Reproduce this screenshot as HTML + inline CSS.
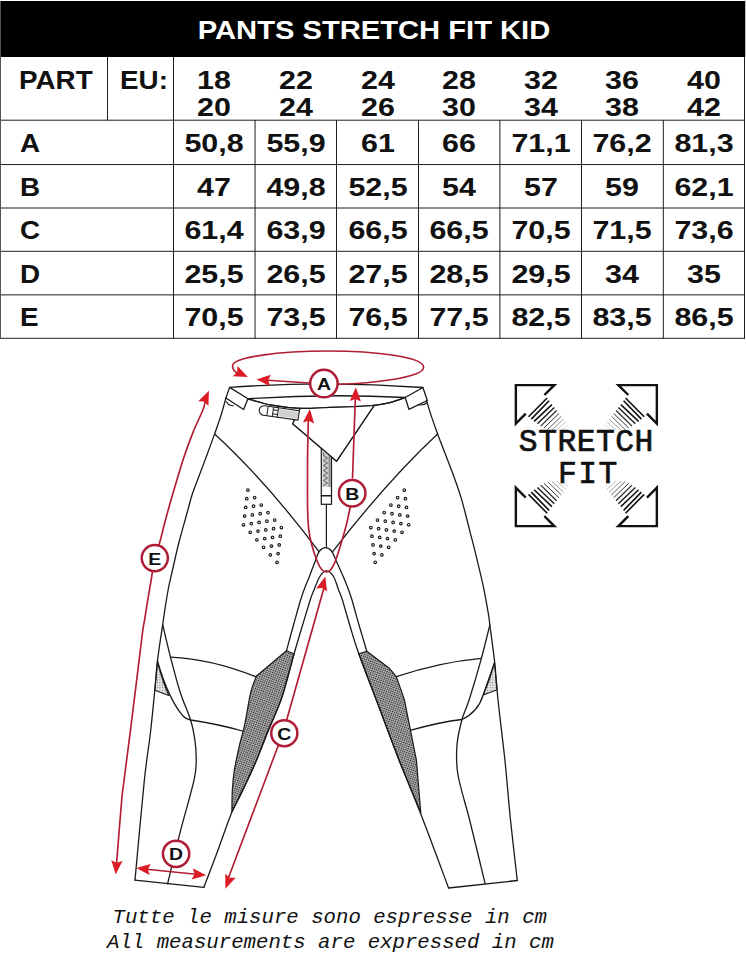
<!DOCTYPE html><html><head><meta charset="utf-8"><style>
*{margin:0;padding:0;box-sizing:border-box}
html,body{width:746px;height:973px;background:#fff;overflow:hidden}
body{position:relative;font-family:"Liberation Sans",sans-serif}
.hl{position:absolute;height:1px;background:#111}
.vl{position:absolute;width:1px;background:#111}
.t{position:absolute;font-weight:bold;font-size:26px;line-height:26px;color:#111;white-space:nowrap}
.c{transform:translateX(-50%) scaleX(1.17);}
.l{transform-origin:0 0;transform:scaleX(1.07)}
</style></head><body>
<div style="position:absolute;left:0;top:1px;width:745px;height:56px;background:#000"></div>
<div class="t c" style="left:373.5px;top:16.5px;font-size:25px;color:#fff;transform:translateX(-50%) scaleX(1.166)">PANTS STRETCH FIT KID</div>
<svg style="position:absolute;left:0;top:0" width="746" height="340"><line x1="0" y1="120.2" x2="745" y2="120.2" stroke="#1e1e1e" stroke-width="1"/><line x1="0" y1="164.56" x2="745" y2="164.56" stroke="#1e1e1e" stroke-width="1"/><line x1="0" y1="208.0" x2="745" y2="208.0" stroke="#1e1e1e" stroke-width="1"/><line x1="0" y1="251.3" x2="745" y2="251.3" stroke="#1e1e1e" stroke-width="1"/><line x1="0" y1="294.86" x2="745" y2="294.86" stroke="#1e1e1e" stroke-width="1"/><line x1="0" y1="338.3" x2="745" y2="338.3" stroke="#1e1e1e" stroke-width="1"/><line x1="255.05" y1="120" x2="255.05" y2="338.8" stroke="#1e1e1e" stroke-width="1"/><line x1="336.5" y1="120" x2="336.5" y2="338.8" stroke="#1e1e1e" stroke-width="1"/><line x1="418.5" y1="120" x2="418.5" y2="338.8" stroke="#1e1e1e" stroke-width="1"/><line x1="499.9" y1="120" x2="499.9" y2="338.8" stroke="#1e1e1e" stroke-width="1"/><line x1="581.5" y1="120" x2="581.5" y2="338.8" stroke="#1e1e1e" stroke-width="1"/><line x1="663.3" y1="120" x2="663.3" y2="338.8" stroke="#1e1e1e" stroke-width="1"/><line x1="173.5" y1="57" x2="173.5" y2="338.8" stroke="#1e1e1e" stroke-width="1"/><line x1="107.5" y1="57" x2="107.5" y2="120.2" stroke="#1e1e1e" stroke-width="1"/><line x1="744.5" y1="57" x2="744.5" y2="338.8" stroke="#1e1e1e" stroke-width="1"/><line x1="0.5" y1="1" x2="0.5" y2="338.8" stroke="#555" stroke-width="1"/><line x1="745.5" y1="0" x2="745.5" y2="57" stroke="#bbb" stroke-width="1"/></svg>
<div class="t l" style="left:19px;top:67px">PART</div>
<div class="t l" style="left:119.5px;top:67px">EU:</div>
<div class="t c" style="left:214.275px;top:67.2px">18</div>
<div class="t c" style="left:214.275px;top:93.6px">20</div>
<div class="t c" style="left:295.775px;top:67.2px">22</div>
<div class="t c" style="left:295.775px;top:93.6px">24</div>
<div class="t c" style="left:377.5px;top:67.2px">24</div>
<div class="t c" style="left:377.5px;top:93.6px">26</div>
<div class="t c" style="left:459.2px;top:67.2px">28</div>
<div class="t c" style="left:459.2px;top:93.6px">30</div>
<div class="t c" style="left:540.7px;top:67.2px">32</div>
<div class="t c" style="left:540.7px;top:93.6px">34</div>
<div class="t c" style="left:622.4px;top:67.2px">36</div>
<div class="t c" style="left:622.4px;top:93.6px">38</div>
<div class="t c" style="left:703.9px;top:67.2px">40</div>
<div class="t c" style="left:703.9px;top:93.6px">42</div>
<div class="t l" style="left:20px;top:130px">A</div>
<div class="t c" style="left:214.275px;top:130px">50,8</div>
<div class="t c" style="left:295.775px;top:130px">55,9</div>
<div class="t c" style="left:377.5px;top:130px">61</div>
<div class="t c" style="left:459.2px;top:130px">66</div>
<div class="t c" style="left:540.7px;top:130px">71,1</div>
<div class="t c" style="left:622.4px;top:130px">76,2</div>
<div class="t c" style="left:703.9px;top:130px">81,3</div>
<div class="t l" style="left:20px;top:174px">B</div>
<div class="t c" style="left:214.275px;top:174px">47</div>
<div class="t c" style="left:295.775px;top:174px">49,8</div>
<div class="t c" style="left:377.5px;top:174px">52,5</div>
<div class="t c" style="left:459.2px;top:174px">54</div>
<div class="t c" style="left:540.7px;top:174px">57</div>
<div class="t c" style="left:622.4px;top:174px">59</div>
<div class="t c" style="left:703.9px;top:174px">62,1</div>
<div class="t l" style="left:20px;top:217px">C</div>
<div class="t c" style="left:214.275px;top:217px">61,4</div>
<div class="t c" style="left:295.775px;top:217px">63,9</div>
<div class="t c" style="left:377.5px;top:217px">66,5</div>
<div class="t c" style="left:459.2px;top:217px">66,5</div>
<div class="t c" style="left:540.7px;top:217px">70,5</div>
<div class="t c" style="left:622.4px;top:217px">71,5</div>
<div class="t c" style="left:703.9px;top:217px">73,6</div>
<div class="t l" style="left:20px;top:261px">D</div>
<div class="t c" style="left:214.275px;top:261px">25,5</div>
<div class="t c" style="left:295.775px;top:261px">26,5</div>
<div class="t c" style="left:377.5px;top:261px">27,5</div>
<div class="t c" style="left:459.2px;top:261px">28,5</div>
<div class="t c" style="left:540.7px;top:261px">29,5</div>
<div class="t c" style="left:622.4px;top:261px">34</div>
<div class="t c" style="left:703.9px;top:261px">35</div>
<div class="t l" style="left:20px;top:304px">E</div>
<div class="t c" style="left:214.275px;top:304px">70,5</div>
<div class="t c" style="left:295.775px;top:304px">73,5</div>
<div class="t c" style="left:377.5px;top:304px">76,5</div>
<div class="t c" style="left:459.2px;top:304px">77,5</div>
<div class="t c" style="left:540.7px;top:304px">82,5</div>
<div class="t c" style="left:622.4px;top:304px">83,5</div>
<div class="t c" style="left:703.9px;top:304px">86,5</div>
<div style="position:absolute;left:112.5px;top:905.5px;font-family:'Liberation Mono',monospace;font-style:italic;font-size:20.7px;line-height:24px;color:#111;white-space:pre">Tutte le misure sono espresse in cm</div>
<div style="position:absolute;left:107px;top:930.5px;font-family:'Liberation Mono',monospace;font-style:italic;font-size:20.7px;line-height:24px;color:#111;white-space:pre">All measurements are expressed in cm</div>
<svg style="position:absolute;left:0;top:0" width="746" height="973" viewBox="0 0 746 973"><defs>
<pattern id="mesh" width="2.1" height="2.1" patternUnits="userSpaceOnUse" patternTransform="rotate(20)">
<rect width="2.1" height="2.1" fill="#bdbdbd"/><circle cx="1.05" cy="1.05" r="0.74" fill="#222"/></pattern>
<pattern id="mesh2" width="2.6" height="2.6" patternUnits="userSpaceOnUse">
<rect width="2.6" height="2.6" fill="#e6e6e6"/><circle cx="1.3" cy="1.3" r="0.6" fill="#777"/></pattern>
</defs>
<path d="M294.0,654.0 C291.9,661.3 286.1,684.8 281.7,697.9 C277.2,711.0 271.8,721.9 267.3,732.9 C262.9,743.9 259.4,753.4 255.0,763.7 C250.6,774.0 244.4,786.6 240.6,794.6 C236.8,802.6 233.3,809.1 231.9,812.0  C232.0,808.4 231.9,797.5 232.3,790.5 C232.7,783.5 233.2,777.4 234.4,769.9 C235.6,762.4 237.8,752.8 239.5,745.2 C241.2,737.7 242.8,733.5 244.7,724.6 C246.6,715.7 248.9,699.8 250.9,691.7 C252.9,683.6 255.6,678.6 256.5,676.0 L286.5,650.8 Z" fill="url(#mesh)" stroke="#1a1a1a" stroke-width="1.2" stroke-linejoin="round" stroke-linecap="round" />
<path d="M358.8,653.8 L366.8,651.2 L389.6,668.6 L396.3,676.6 L404.3,699.4 L416.4,760 L420.8,813 L399,760 Z" fill="url(#mesh)" stroke="#1a1a1a" stroke-width="1.2" stroke-linejoin="round" stroke-linecap="round" />
<path d="M157.5,661.5 L154.8,690.3 L168.8,695.5 Q162,680 157.5,661.5 Z" fill="url(#mesh2)" stroke="#1a1a1a" stroke-width="1.1" stroke-linejoin="round" stroke-linecap="round" />
<path d="M494.5,662.7 L497.1,689.7 L483.2,695 Q490,680 494.5,662.7 Z" fill="url(#mesh2)" stroke="#1a1a1a" stroke-width="1.1" stroke-linejoin="round" stroke-linecap="round" />
<path d="M229.6,387.4 Q326,380.5 422.9,387.5" fill="none" stroke="#1a1a1a" stroke-width="1.3" stroke-linejoin="round" stroke-linecap="round" />
<path d="M248,398.8 Q326,393.4 405.2,397.5" fill="none" stroke="#1a1a1a" stroke-width="1.3" stroke-linejoin="round" stroke-linecap="round" />
<path d="M248.0,398.8 C251.9,399.9 262.9,403.6 271.6,405.2 C280.3,406.8 290.6,407.9 300.3,408.3 C310.0,408.7 320.1,407.7 330.0,407.4 C339.9,407.1 352.6,406.7 360.0,406.4 C367.4,406.1 369.2,406.0 374.2,405.4 C379.2,404.8 384.8,403.9 390.0,402.6 C395.2,401.3 402.7,398.4 405.2,397.5" fill="none" stroke="#1a1a1a" stroke-width="1.3" stroke-linejoin="round" stroke-linecap="round" />
<path d="M229.6,387.4 L248.0,398.8 L243.6,409.5 L225.9,398.0 Z" fill="none" stroke="#1a1a1a" stroke-width="1.3" stroke-linejoin="round" stroke-linecap="round" />
<path d="M226.5,401.7 Q228,405.5 233.5,405.8" fill="none" stroke="#1a1a1a" stroke-width="1.1" stroke-linejoin="round" stroke-linecap="round" />
<path d="M422.9,387.5 L405.2,397.5 L408.9,409.3 L427.3,400.5 Z" fill="none" stroke="#1a1a1a" stroke-width="1.3" stroke-linejoin="round" stroke-linecap="round" />
<path d="M418.5,405 Q424,405.5 427.5,402.5" fill="none" stroke="#1a1a1a" stroke-width="1.1" stroke-linejoin="round" stroke-linecap="round" />
<path d="M225.9,398.0 C225.1,401.0 222.7,410.0 220.8,416.0 C218.9,422.0 216.9,427.5 214.6,433.9 C212.3,440.3 209.7,447.6 207.2,454.3 C204.7,461.0 202.3,467.4 199.8,474.0 C197.3,480.6 194.6,487.2 192.4,493.8 C190.2,500.4 189.2,505.4 186.9,513.5 C184.7,521.6 181.2,533.6 178.9,542.5 C176.6,551.4 175.0,559.1 173.2,567.0 C171.4,574.9 169.5,582.5 168.1,590.0 C166.7,597.5 165.4,606.2 164.5,612.0 C163.6,617.8 163.0,622.7 162.7,624.8" fill="none" stroke="#1a1a1a" stroke-width="1.3" stroke-linejoin="round" stroke-linecap="round" />
<path d="M162.7,624.8 C161.8,630.8 158.8,649.7 157.5,660.6 C156.2,671.5 156.0,678.4 154.8,690.3 C153.6,702.2 152.2,717.3 150.5,732.2 C148.8,747.1 147.0,755.1 144.4,779.8 C141.8,804.4 136.6,863.4 135.0,880.1" fill="none" stroke="#1a1a1a" stroke-width="1.3" stroke-linejoin="round" stroke-linecap="round" />
<path d="M162.7,624.8 C164.0,630.2 167.6,645.9 170.5,657.1 C173.4,668.3 176.8,681.5 180.1,692.0 C183.4,702.5 188.1,711.9 190.6,720.0 C193.1,728.1 194.1,734.5 195.0,740.9 C195.9,747.3 196.3,751.9 196.2,758.4 C196.0,764.9 196.9,767.1 194.1,779.8 C191.3,792.4 184.0,817.0 179.6,834.3 C175.2,851.6 169.6,875.5 167.6,883.8" fill="none" stroke="#1a1a1a" stroke-width="1.3" stroke-linejoin="round" stroke-linecap="round" />
<path d="M170.5,657.1 Q212,659 255.6,676.7" fill="none" stroke="#1a1a1a" stroke-width="1.3" stroke-linejoin="round" stroke-linecap="round" />
<path d="M157.5,661.5 C163,680 170,700 181.9,714.7 Q185,719 190.6,720 Q218,724 242.4,731" fill="none" stroke="#1a1a1a" stroke-width="1.3" stroke-linejoin="round" stroke-linecap="round" />
<path d="M135,880.1 L203.8,887.4" fill="none" stroke="#1a1a1a" stroke-width="1.3" stroke-linejoin="round" stroke-linecap="round" />
<path d="M203.8,887.4 C206.2,881.2 213.3,862.6 218.0,850.0 C222.7,837.4 228.1,821.2 231.9,812.0 C235.7,802.8 236.8,802.6 240.6,794.6 C244.4,786.6 250.6,774.0 255.0,763.7 C259.4,753.4 262.9,743.9 267.3,732.9 C271.8,721.9 277.2,711.0 281.7,697.9 C286.1,684.8 290.6,665.8 294.0,654.0 C297.4,642.2 299.3,636.0 302.0,627.0 C304.7,618.0 308.2,606.3 310.2,600.0 C312.2,593.7 312.6,593.3 314.2,589.4 C315.8,585.5 317.9,579.6 319.9,576.5 C321.9,573.4 324.0,570.9 326.3,570.9 C328.6,570.9 331.5,573.4 333.5,576.5 C335.5,579.6 336.9,585.5 338.4,589.4 C339.9,593.3 340.5,593.9 342.4,600.0 C344.3,606.1 347.3,617.0 350.0,626.0 C352.7,635.0 354.0,640.3 358.8,653.8 C363.6,667.3 372.3,689.3 379.0,707.0 C385.7,724.7 392.0,742.2 399.0,760.0 C406.0,777.8 412.5,792.7 420.8,814.0 C429.1,835.3 444.0,875.7 448.6,888.0" fill="none" stroke="#1a1a1a" stroke-width="1.3" stroke-linejoin="round" stroke-linecap="round" />
<path d="M286.5,650.8 C287.7,646.5 291.1,633.5 293.5,625.0 C295.9,616.5 298.6,606.5 300.6,600.0 C302.6,593.5 304.0,589.9 305.5,586.0 C307.0,582.1 307.7,580.8 309.4,576.5 C311.1,572.2 313.8,564.6 315.5,560.4 C317.2,556.1 317.8,553.1 319.5,551.0 C321.2,548.9 323.5,547.6 325.5,547.6 C327.5,547.6 329.8,548.9 331.5,551.0 C333.2,553.1 334.1,556.1 336.0,560.4 C337.9,564.6 341.3,572.1 343.2,576.5 C345.1,580.9 346.0,583.1 347.5,587.0 C349.0,590.9 350.1,593.7 352.0,600.0 C353.9,606.3 356.5,616.5 359.0,625.0 C361.5,633.5 365.5,646.8 366.8,651.2" fill="none" stroke="#1a1a1a" stroke-width="1.3" stroke-linejoin="round" stroke-linecap="round" />
<path d="M214.6,433.9 Q265,480 319,551.6" fill="none" stroke="#1a1a1a" stroke-width="1.3" stroke-linejoin="round" stroke-linecap="round" />
<path d="M437.6,433.9 Q388,480 332.7,551.6" fill="none" stroke="#1a1a1a" stroke-width="1.3" stroke-linejoin="round" stroke-linecap="round" />
<path d="M426.5,400.5 C427.3,403.2 429.6,411.0 431.5,416.6 C433.4,422.2 435.2,427.4 437.6,433.9 C440.0,440.4 443.1,448.1 445.9,455.5 C448.7,462.9 452.0,471.1 454.6,478.5 C457.2,485.9 459.2,491.0 461.8,500.1 C464.4,509.2 468.0,523.9 470.4,533.3 C472.8,542.6 474.1,547.4 476.2,556.2 C478.3,565.0 481.2,576.3 483.2,585.9 C485.2,595.5 487.3,607.3 488.4,613.8 C489.5,620.3 489.6,623.2 489.8,625.1" fill="none" stroke="#1a1a1a" stroke-width="1.3" stroke-linejoin="round" stroke-linecap="round" />
<path d="M489.8,625.1 C490.6,631.1 493.1,648.5 494.5,660.9 C495.9,673.3 496.3,683.3 498.0,699.8 C499.7,716.3 502.8,740.0 504.9,760.0 C507.0,780.0 508.4,799.9 510.5,820.0 C512.6,840.1 516.2,870.4 517.3,880.5" fill="none" stroke="#1a1a1a" stroke-width="1.3" stroke-linejoin="round" stroke-linecap="round" />
<path d="M489.8,625.1 C488.4,630.6 484.8,645.8 481.4,658.3 C478.0,670.8 472.4,689.6 469.2,699.8 C466.0,710.0 464.0,712.0 462.0,719.5 C460.0,727.0 457.7,735.8 457.0,745.0 C456.3,754.2 455.8,762.2 458.0,775.0 C460.2,787.8 465.5,803.4 470.0,821.5 C474.5,839.6 482.6,873.3 485.1,883.7" fill="none" stroke="#1a1a1a" stroke-width="1.3" stroke-linejoin="round" stroke-linecap="round" />
<path d="M396.3,676.6 Q440,662 481.4,658.3" fill="none" stroke="#1a1a1a" stroke-width="1.3" stroke-linejoin="round" stroke-linecap="round" />
<path d="M411,730.2 Q440,722 462,719.5 Q478,712 483.2,695 L494.5,662.7" fill="none" stroke="#1a1a1a" stroke-width="1.3" stroke-linejoin="round" stroke-linecap="round" />
<path d="M448.6,888 L517.3,880.5" fill="none" stroke="#1a1a1a" stroke-width="1.3" stroke-linejoin="round" stroke-linecap="round" />
<path d="M300.3,408.3 L292.7,423.7 L336.6,461.2 L374.2,405.4" fill="none" stroke="#1a1a1a" stroke-width="1.3" stroke-linejoin="round" stroke-linecap="round" />
<rect x="321.3" y="449" width="10.2" height="55.3" fill="#fff" stroke="#1a1a1a" stroke-width="1.2"/>
<rect x="322.2" y="450" width="8.4" height="37" fill="#cfcfcf"/>
<rect x="328.6" y="452" width="2" height="35" fill="#8a8a8a"/>
<path d="M323.5,453 L323.5,455.5 L327.5,458.0 L323.5,460.5 L327.5,463.0 L323.5,465.5 L327.5,468.0 L323.5,470.5 L327.5,473.0 L323.5,475.5 L327.5,478.0 L323.5,480.5 L327.5,483.0 L323.5,485.5" fill="none" stroke="#444" stroke-width="0.8" stroke-linejoin="round" stroke-linecap="round" />
<path d="M321.3,495.8 L331.5,495.8" fill="none" stroke="#1a1a1a" stroke-width="1.6" stroke-linejoin="round" stroke-linecap="round" />
<path d="M326.4,504.3 L326.4,546.8" fill="none" stroke="#1a1a1a" stroke-width="1.2" stroke-linejoin="round" stroke-linecap="round" />
<path d="M300.3,408.3 L292.7,423.7 L336.6,461.2 L374.2,405.4 L330,407.4 Z" fill="#fff" stroke="none"/>
<path d="M300.3,408.3 L292.7,423.7 L336.6,461.2 L374.2,405.4" fill="none" stroke="#1a1a1a" stroke-width="1.3" stroke-linejoin="round" stroke-linecap="round" />
<path d="M248.0,398.8 C251.9,399.9 262.9,403.6 271.6,405.2 C280.3,406.8 290.6,407.9 300.3,408.3 C310.0,408.7 320.1,407.7 330.0,407.4 C339.9,407.1 352.6,406.7 360.0,406.4 C367.4,406.1 369.2,406.0 374.2,405.4 C379.2,404.8 384.8,403.9 390.0,402.6 C395.2,401.3 402.7,398.4 405.2,397.5" fill="none" stroke="#1a1a1a" stroke-width="1.3" stroke-linejoin="round" stroke-linecap="round" />
<g transform="translate(264,410.5) rotate(8)"><path d="M0,-4.8 L35,-4.8 L35,4.8 L0,4.8 A4.8,4.8 0 0 1 0,-4.8 Z" fill="#fff" stroke="#1a1a1a" stroke-width="1.1"/><rect x="15" y="-3.6" width="19" height="7.2" fill="#cfcfcf"/><path d="M3.5,-4.8 L3.5,4.8 M9,-4.8 L9,4.8 M9,-2 L14,-2 M9,2 L14,2 M14,-4.8 L14,4.8" stroke="#1a1a1a" stroke-width="1" fill="none"/></g>
<circle cx="247.9" cy="490.0" r="1.3" fill="#fff" stroke="#1a1a1a" stroke-width="1.15"/>
<circle cx="404.3" cy="490.0" r="1.3" fill="#fff" stroke="#1a1a1a" stroke-width="1.15"/>
<circle cx="246.8" cy="498.7" r="1.3" fill="#fff" stroke="#1a1a1a" stroke-width="1.15"/>
<circle cx="405.4" cy="498.7" r="1.3" fill="#fff" stroke="#1a1a1a" stroke-width="1.15"/>
<circle cx="254.6" cy="497.5" r="1.3" fill="#fff" stroke="#1a1a1a" stroke-width="1.15"/>
<circle cx="397.6" cy="497.5" r="1.3" fill="#fff" stroke="#1a1a1a" stroke-width="1.15"/>
<circle cx="245.7" cy="507.4" r="1.3" fill="#fff" stroke="#1a1a1a" stroke-width="1.15"/>
<circle cx="406.5" cy="507.4" r="1.3" fill="#fff" stroke="#1a1a1a" stroke-width="1.15"/>
<circle cx="253.5" cy="506.2" r="1.3" fill="#fff" stroke="#1a1a1a" stroke-width="1.15"/>
<circle cx="398.7" cy="506.2" r="1.3" fill="#fff" stroke="#1a1a1a" stroke-width="1.15"/>
<circle cx="261.3" cy="505.0" r="1.3" fill="#fff" stroke="#1a1a1a" stroke-width="1.15"/>
<circle cx="390.9" cy="505.0" r="1.3" fill="#fff" stroke="#1a1a1a" stroke-width="1.15"/>
<circle cx="244.6" cy="516.1" r="1.3" fill="#fff" stroke="#1a1a1a" stroke-width="1.15"/>
<circle cx="407.6" cy="516.1" r="1.3" fill="#fff" stroke="#1a1a1a" stroke-width="1.15"/>
<circle cx="252.4" cy="514.9" r="1.3" fill="#fff" stroke="#1a1a1a" stroke-width="1.15"/>
<circle cx="399.8" cy="514.9" r="1.3" fill="#fff" stroke="#1a1a1a" stroke-width="1.15"/>
<circle cx="260.2" cy="513.7" r="1.3" fill="#fff" stroke="#1a1a1a" stroke-width="1.15"/>
<circle cx="392.0" cy="513.7" r="1.3" fill="#fff" stroke="#1a1a1a" stroke-width="1.15"/>
<circle cx="268.0" cy="512.5" r="1.3" fill="#fff" stroke="#1a1a1a" stroke-width="1.15"/>
<circle cx="384.2" cy="512.5" r="1.3" fill="#fff" stroke="#1a1a1a" stroke-width="1.15"/>
<circle cx="243.5" cy="524.8" r="1.3" fill="#fff" stroke="#1a1a1a" stroke-width="1.15"/>
<circle cx="408.7" cy="524.8" r="1.3" fill="#fff" stroke="#1a1a1a" stroke-width="1.15"/>
<circle cx="251.3" cy="523.6" r="1.3" fill="#fff" stroke="#1a1a1a" stroke-width="1.15"/>
<circle cx="400.9" cy="523.6" r="1.3" fill="#fff" stroke="#1a1a1a" stroke-width="1.15"/>
<circle cx="259.1" cy="522.4" r="1.3" fill="#fff" stroke="#1a1a1a" stroke-width="1.15"/>
<circle cx="393.1" cy="522.4" r="1.3" fill="#fff" stroke="#1a1a1a" stroke-width="1.15"/>
<circle cx="266.9" cy="521.2" r="1.3" fill="#fff" stroke="#1a1a1a" stroke-width="1.15"/>
<circle cx="385.3" cy="521.2" r="1.3" fill="#fff" stroke="#1a1a1a" stroke-width="1.15"/>
<circle cx="274.7" cy="520.0" r="1.3" fill="#fff" stroke="#1a1a1a" stroke-width="1.15"/>
<circle cx="377.5" cy="520.0" r="1.3" fill="#fff" stroke="#1a1a1a" stroke-width="1.15"/>
<circle cx="250.2" cy="532.3" r="1.3" fill="#fff" stroke="#1a1a1a" stroke-width="1.15"/>
<circle cx="402.0" cy="532.3" r="1.3" fill="#fff" stroke="#1a1a1a" stroke-width="1.15"/>
<circle cx="258.0" cy="531.1" r="1.3" fill="#fff" stroke="#1a1a1a" stroke-width="1.15"/>
<circle cx="394.2" cy="531.1" r="1.3" fill="#fff" stroke="#1a1a1a" stroke-width="1.15"/>
<circle cx="265.8" cy="529.9" r="1.3" fill="#fff" stroke="#1a1a1a" stroke-width="1.15"/>
<circle cx="386.4" cy="529.9" r="1.3" fill="#fff" stroke="#1a1a1a" stroke-width="1.15"/>
<circle cx="273.6" cy="528.7" r="1.3" fill="#fff" stroke="#1a1a1a" stroke-width="1.15"/>
<circle cx="378.6" cy="528.7" r="1.3" fill="#fff" stroke="#1a1a1a" stroke-width="1.15"/>
<circle cx="281.4" cy="527.5" r="1.3" fill="#fff" stroke="#1a1a1a" stroke-width="1.15"/>
<circle cx="370.8" cy="527.5" r="1.3" fill="#fff" stroke="#1a1a1a" stroke-width="1.15"/>
<circle cx="256.9" cy="539.8" r="1.3" fill="#fff" stroke="#1a1a1a" stroke-width="1.15"/>
<circle cx="395.3" cy="539.8" r="1.3" fill="#fff" stroke="#1a1a1a" stroke-width="1.15"/>
<circle cx="264.7" cy="538.6" r="1.3" fill="#fff" stroke="#1a1a1a" stroke-width="1.15"/>
<circle cx="387.5" cy="538.6" r="1.3" fill="#fff" stroke="#1a1a1a" stroke-width="1.15"/>
<circle cx="272.5" cy="537.4" r="1.3" fill="#fff" stroke="#1a1a1a" stroke-width="1.15"/>
<circle cx="379.7" cy="537.4" r="1.3" fill="#fff" stroke="#1a1a1a" stroke-width="1.15"/>
<circle cx="280.3" cy="536.2" r="1.3" fill="#fff" stroke="#1a1a1a" stroke-width="1.15"/>
<circle cx="371.9" cy="536.2" r="1.3" fill="#fff" stroke="#1a1a1a" stroke-width="1.15"/>
<circle cx="263.6" cy="547.3" r="1.3" fill="#fff" stroke="#1a1a1a" stroke-width="1.15"/>
<circle cx="388.6" cy="547.3" r="1.3" fill="#fff" stroke="#1a1a1a" stroke-width="1.15"/>
<circle cx="271.4" cy="546.1" r="1.3" fill="#fff" stroke="#1a1a1a" stroke-width="1.15"/>
<circle cx="380.8" cy="546.1" r="1.3" fill="#fff" stroke="#1a1a1a" stroke-width="1.15"/>
<circle cx="279.2" cy="544.9" r="1.3" fill="#fff" stroke="#1a1a1a" stroke-width="1.15"/>
<circle cx="373.0" cy="544.9" r="1.3" fill="#fff" stroke="#1a1a1a" stroke-width="1.15"/>
<circle cx="270.3" cy="554.8" r="1.3" fill="#fff" stroke="#1a1a1a" stroke-width="1.15"/>
<circle cx="381.9" cy="554.8" r="1.3" fill="#fff" stroke="#1a1a1a" stroke-width="1.15"/>
<circle cx="278.1" cy="553.6" r="1.3" fill="#fff" stroke="#1a1a1a" stroke-width="1.15"/>
<circle cx="374.1" cy="553.6" r="1.3" fill="#fff" stroke="#1a1a1a" stroke-width="1.15"/>
<circle cx="277.0" cy="562.3" r="1.3" fill="#fff" stroke="#1a1a1a" stroke-width="1.15"/>
<circle cx="375.2" cy="562.3" r="1.3" fill="#fff" stroke="#1a1a1a" stroke-width="1.15"/>
<path d="M338,384.2 C370,383.5 423.6,378 423.6,367.3 C423.6,357 376,351 328,351 C280,351 232.5,357 232.5,366 C232.5,369 234,371.5 238,373.5" fill="none" stroke="#b21d31" stroke-width="1.65" stroke-linejoin="round" stroke-linecap="round" />
<path d="M247.9,377.0 L232.8,376.2 L237.2,372.0 L237.5,366.0 Z" fill="#dc1c24"/>
<path d="M309,383 L264,380" fill="none" stroke="#b21d31" stroke-width="1.65" stroke-linejoin="round" stroke-linecap="round" />
<path d="M256.4,379.4 L270.8,374.8 L268.2,380.3 L270.0,386.0 Z" fill="#dc1c24"/>
<path d="M308.3,420.0 C308.2,428.3 307.4,451.9 307.5,470.0 C307.6,488.1 306.9,513.0 308.6,528.3 C310.3,543.6 314.6,554.7 317.5,562.0 C320.4,569.3 323.5,571.7 326.3,572.0 C329.1,572.3 331.2,570.6 334.3,563.6 C337.4,556.6 342.3,539.6 345.0,530.0 C347.7,520.4 349.6,510.0 350.5,506.0" fill="none" stroke="#b21d31" stroke-width="1.65" stroke-linejoin="round" stroke-linecap="round" />
<path d="M352.5,478 L355.4,397" fill="none" stroke="#b21d31" stroke-width="1.65" stroke-linejoin="round" stroke-linecap="round" />
<path d="M309.9,409.0 L314.1,423.5 L308.7,420.7 L302.9,422.4 Z" fill="#dc1c24"/>
<path d="M355.8,387.2 L361.0,401.4 L355.4,399.0 L349.8,401.0 Z" fill="#dc1c24"/>
<path d="M324.5,586 L283,733 L228,879" fill="none" stroke="#b21d31" stroke-width="1.65" stroke-linejoin="round" stroke-linecap="round" />
<path d="M325.3,576.5 L327.0,591.5 L322.2,587.9 L316.2,588.5 Z" fill="#dc1c24"/>
<path d="M225.4,888.8 L225.2,873.7 L229.6,877.8 L235.6,877.7 Z" fill="#dc1c24"/>
<path d="M205.5,400.0 C205.1,401.6 205.1,404.4 203.0,409.7 C200.9,415.0 196.5,423.7 193.2,431.9 C189.9,440.1 186.8,448.5 183.3,459.0 C179.9,469.5 175.4,485.2 172.5,495.0 C169.6,504.8 168.2,510.0 166.0,518.0 C163.8,526.0 161.4,536.6 159.5,543.2 C157.6,549.8 155.8,551.8 154.5,557.6 C153.2,563.4 152.6,571.2 151.5,578.0 C150.4,584.8 149.2,591.6 148.0,598.6 C146.8,605.6 145.6,613.9 144.6,620.0 C143.6,626.1 144.1,620.0 142.2,635.0 C140.3,650.0 136.0,685.8 133.0,710.0 C130.0,734.2 126.0,765.0 124.1,780.0 C122.2,795.0 123.0,786.0 121.7,800.0 C120.4,814.0 117.4,853.3 116.5,864.0" fill="none" stroke="#b21d31" stroke-width="1.65" stroke-linejoin="round" stroke-linecap="round" />
<path d="M209.0,390.8 L208.4,405.9 L204.2,401.6 L198.2,401.3 Z" fill="#dc1c24"/>
<path d="M115.7,874.6 L111.3,860.2 L116.7,862.8 L122.5,861.1 Z" fill="#dc1c24"/>
<path d="M144,869 L198.5,874.5" fill="none" stroke="#b21d31" stroke-width="1.65" stroke-linejoin="round" stroke-linecap="round" />
<path d="M136.2,868.1 L150.7,863.9 L147.9,869.3 L149.6,875.1 Z" fill="#dc1c24"/>
<path d="M206.2,875.3 L191.7,879.4 L194.5,874.1 L192.8,868.3 Z" fill="#dc1c24"/>
<circle cx="323.9" cy="383.6" r="13.75" fill="#fff" stroke="#ae1d36" stroke-width="2.5"/>
<text x="323.9" y="390.2" text-anchor="middle" font-family="Liberation Sans" font-weight="bold" font-size="16.6" fill="#111" transform="translate(323.9,0) scale(1.17,1) translate(-323.9,0)">A</text>
<circle cx="352.2" cy="493.2" r="13.25" fill="#fff" stroke="#ae1d36" stroke-width="2.5"/>
<text x="352.2" y="499.8" text-anchor="middle" font-family="Liberation Sans" font-weight="bold" font-size="16.6" fill="#111" transform="translate(352.2,0) scale(1.17,1) translate(-352.2,0)">B</text>
<circle cx="284.3" cy="733.2" r="13.05" fill="#fff" stroke="#ae1d36" stroke-width="2.5"/>
<text x="284.3" y="739.8" text-anchor="middle" font-family="Liberation Sans" font-weight="bold" font-size="16.6" fill="#111" transform="translate(284.3,0) scale(1.17,1) translate(-284.3,0)">C</text>
<circle cx="154.8" cy="558.1" r="13.05" fill="#fff" stroke="#ae1d36" stroke-width="2.5"/>
<text x="154.8" y="564.7" text-anchor="middle" font-family="Liberation Sans" font-weight="bold" font-size="16.6" fill="#111" transform="translate(154.8,0) scale(1.17,1) translate(-154.8,0)">E</text>
<circle cx="176.1" cy="853.8" r="13.15" fill="#fff" stroke="#ae1d36" stroke-width="2.5"/>
<text x="176.1" y="860.4" text-anchor="middle" font-family="Liberation Sans" font-weight="bold" font-size="16.6" fill="#111" transform="translate(176.1,0) scale(1.17,1) translate(-176.1,0)">D</text>
</svg><svg style="position:absolute;left:0;top:0" width="746" height="973" viewBox="0 0 746 973"><g transform="translate(586.35,455.6) scale(1,1)"><path d="M-42,-60.6 L-32,-70.5 L-70.5,-70.5 L-70.5,-32 L-60.6,-42" fill="none" stroke="#111" stroke-width="2.4" stroke-linejoin="miter" stroke-linecap="butt"/><path d="M-39.15,-57.60 L-57.85,-38.80" stroke="#111" stroke-width="1.60" opacity="1.00"/><path d="M-37.25,-54.80 L-55.05,-36.50" stroke="#111" stroke-width="1.60" opacity="1.00"/><path d="M-34.45,-51.00 L-52.25,-34.20" stroke="#111" stroke-width="1.50" opacity="1.00"/><path d="M-32.05,-48.20 L-48.95,-31.80" stroke="#111" stroke-width="1.40" opacity="0.95"/><path d="M-29.75,-45.10 L-45.65,-29.50" stroke="#111" stroke-width="1.20" opacity="0.90"/><path d="M-27.35,-42.10 L-42.45,-27.60" stroke="#111" stroke-width="1.00" opacity="0.85"/><path d="M-25.05,-39.30 L-38.65,-26.20" stroke="#111" stroke-width="0.90" opacity="0.75"/><path d="M-22.75,-36.50 L-34.45,-25.70" stroke="#111" stroke-width="0.70" opacity="0.60"/><path d="M-20.45,-33.70 L-29.85,-25.40" stroke="#111" stroke-width="0.60" opacity="0.45"/><path d="M-18.15,-30.90 L-25.35,-25.10" stroke="#111" stroke-width="0.50" opacity="0.30"/></g><g transform="translate(586.35,455.6) scale(-1,1)"><path d="M-42,-60.6 L-32,-70.5 L-70.5,-70.5 L-70.5,-32 L-60.6,-42" fill="none" stroke="#111" stroke-width="2.4" stroke-linejoin="miter" stroke-linecap="butt"/><path d="M-39.15,-57.60 L-57.85,-38.80" stroke="#111" stroke-width="1.60" opacity="1.00"/><path d="M-37.25,-54.80 L-55.05,-36.50" stroke="#111" stroke-width="1.60" opacity="1.00"/><path d="M-34.45,-51.00 L-52.25,-34.20" stroke="#111" stroke-width="1.50" opacity="1.00"/><path d="M-32.05,-48.20 L-48.95,-31.80" stroke="#111" stroke-width="1.40" opacity="0.95"/><path d="M-29.75,-45.10 L-45.65,-29.50" stroke="#111" stroke-width="1.20" opacity="0.90"/><path d="M-27.35,-42.10 L-42.45,-27.60" stroke="#111" stroke-width="1.00" opacity="0.85"/><path d="M-25.05,-39.30 L-38.65,-26.20" stroke="#111" stroke-width="0.90" opacity="0.75"/><path d="M-22.75,-36.50 L-34.45,-25.70" stroke="#111" stroke-width="0.70" opacity="0.60"/><path d="M-20.45,-33.70 L-29.85,-25.40" stroke="#111" stroke-width="0.60" opacity="0.45"/><path d="M-18.15,-30.90 L-25.35,-25.10" stroke="#111" stroke-width="0.50" opacity="0.30"/></g><g transform="translate(586.35,455.6) scale(1,-1)"><path d="M-42,-60.6 L-32,-70.5 L-70.5,-70.5 L-70.5,-32 L-60.6,-42" fill="none" stroke="#111" stroke-width="2.4" stroke-linejoin="miter" stroke-linecap="butt"/><path d="M-39.15,-57.60 L-57.85,-38.80" stroke="#111" stroke-width="1.60" opacity="1.00"/><path d="M-37.25,-54.80 L-55.05,-36.50" stroke="#111" stroke-width="1.60" opacity="1.00"/><path d="M-34.45,-51.00 L-52.25,-34.20" stroke="#111" stroke-width="1.50" opacity="1.00"/><path d="M-32.05,-48.20 L-48.95,-31.80" stroke="#111" stroke-width="1.40" opacity="0.95"/><path d="M-29.75,-45.10 L-45.65,-29.50" stroke="#111" stroke-width="1.20" opacity="0.90"/><path d="M-27.35,-42.10 L-42.45,-27.60" stroke="#111" stroke-width="1.00" opacity="0.85"/><path d="M-25.05,-39.30 L-38.65,-26.20" stroke="#111" stroke-width="0.90" opacity="0.75"/><path d="M-22.75,-36.50 L-34.45,-25.70" stroke="#111" stroke-width="0.70" opacity="0.60"/><path d="M-20.45,-33.70 L-29.85,-25.40" stroke="#111" stroke-width="0.60" opacity="0.45"/><path d="M-18.15,-30.90 L-25.35,-25.10" stroke="#111" stroke-width="0.50" opacity="0.30"/></g><g transform="translate(586.35,455.6) scale(-1,-1)"><path d="M-42,-60.6 L-32,-70.5 L-70.5,-70.5 L-70.5,-32 L-60.6,-42" fill="none" stroke="#111" stroke-width="2.4" stroke-linejoin="miter" stroke-linecap="butt"/><path d="M-39.15,-57.60 L-57.85,-38.80" stroke="#111" stroke-width="1.60" opacity="1.00"/><path d="M-37.25,-54.80 L-55.05,-36.50" stroke="#111" stroke-width="1.60" opacity="1.00"/><path d="M-34.45,-51.00 L-52.25,-34.20" stroke="#111" stroke-width="1.50" opacity="1.00"/><path d="M-32.05,-48.20 L-48.95,-31.80" stroke="#111" stroke-width="1.40" opacity="0.95"/><path d="M-29.75,-45.10 L-45.65,-29.50" stroke="#111" stroke-width="1.20" opacity="0.90"/><path d="M-27.35,-42.10 L-42.45,-27.60" stroke="#111" stroke-width="1.00" opacity="0.85"/><path d="M-25.05,-39.30 L-38.65,-26.20" stroke="#111" stroke-width="0.90" opacity="0.75"/><path d="M-22.75,-36.50 L-34.45,-25.70" stroke="#111" stroke-width="0.70" opacity="0.60"/><path d="M-20.45,-33.70 L-29.85,-25.40" stroke="#111" stroke-width="0.60" opacity="0.45"/><path d="M-18.15,-30.90 L-25.35,-25.10" stroke="#111" stroke-width="0.50" opacity="0.30"/></g><text x="586.35" y="450.6" text-anchor="middle" font-family="Liberation Mono" font-size="31.3" letter-spacing="0.5" fill="#111" stroke="#111" stroke-width="0.7">STRETCH</text><text x="588.35" y="483.2" text-anchor="middle" font-family="Liberation Mono" font-size="31.3" letter-spacing="1.5" fill="#111" stroke="#111" stroke-width="0.7">FIT</text></svg>
</body></html>
